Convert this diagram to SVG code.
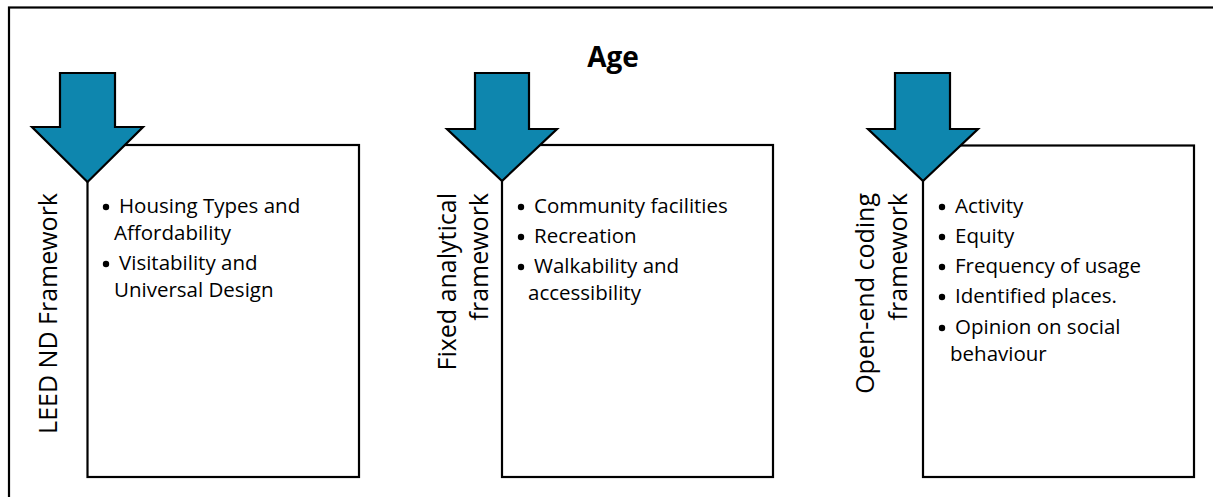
<svg xmlns="http://www.w3.org/2000/svg" width="1213" height="497" viewBox="0 0 1213 497">
<style>
.frame{fill:none;stroke:#000;stroke-width:2.2}
.box{fill:#fff;stroke:#000;stroke-width:2.2}
.arrow{fill:#0E86AE;stroke:#000;stroke-width:2.2;stroke-linejoin:miter}
.t{font-family:"Open Sans","Noto Sans",sans-serif;font-size:20.5px;fill:#000}
.v{font-family:"Open Sans","Noto Sans",sans-serif;font-size:25px;fill:#000;text-anchor:end}
.title{font-family:"Open Sans","Noto Sans",sans-serif;font-size:28px;font-weight:bold;fill:#000;text-anchor:middle}
</style>
<rect x="0" y="0" width="1213" height="497" fill="#fff"/>
<rect class="frame" x="9" y="7.5" width="1220" height="510"/>
<text class="title" x="613" y="67">Age</text>

<g id="node-leed">
<rect class="box" x="87.5" y="145" width="271.5" height="332"/>
<text class="v" transform="translate(57,193) rotate(-90)">LEED ND Framework</text>
<circle cx="106" cy="207" r="3.2" fill="#000"/>
<text class="t" x="119" y="213">Housing Types and</text>
<text class="t" x="114" y="240">Affordability</text>
<circle cx="106" cy="264" r="3.2" fill="#000"/>
<text class="t" x="119" y="270">Visitability and</text>
<text class="t" x="114" y="297">Universal Design</text>
</g>

<g id="node-fixed">
<rect class="box" x="502" y="145" width="271" height="332"/>
<text class="v" transform="translate(456,193) rotate(-90)">Fixed analytical</text>
<text class="v" transform="translate(488,193) rotate(-90)">framework</text>
<circle cx="521" cy="207" r="3.2" fill="#000"/>
<text class="t" x="534" y="213">Community facilities</text>
<circle cx="521" cy="237" r="3.2" fill="#000"/>
<text class="t" x="534" y="243">Recreation</text>
<circle cx="521" cy="267" r="3.2" fill="#000"/>
<text class="t" x="534" y="273">Walkability and</text>
<text class="t" x="528" y="300">accessibility</text>
</g>

<g id="node-open">
<rect class="box" x="923" y="145.5" width="271" height="331.5"/>
<text class="v" transform="translate(874,193) rotate(-90)">Open-end coding</text>
<text class="v" transform="translate(907,193) rotate(-90)">framework</text>
<circle cx="942" cy="207" r="3.2" fill="#000"/>
<text class="t" x="955" y="213">Activity</text>
<circle cx="942" cy="237" r="3.2" fill="#000"/>
<text class="t" x="955" y="243">Equity</text>
<circle cx="942" cy="267" r="3.2" fill="#000"/>
<text class="t" x="955" y="273">Frequency of usage</text>
<circle cx="942" cy="297" r="3.2" fill="#000"/>
<text class="t" x="955" y="303">Identified places.</text>
<circle cx="942" cy="328" r="3.2" fill="#000"/>
<text class="t" x="955" y="334">Opinion on social</text>
<text class="t" x="950" y="361">behaviour</text>
</g>

<g id="connectors">
<polygon class="arrow" points="60,73 115,73 115,127 143,127 87.5,182 32,127 60,127"/>
<polygon class="arrow" points="475,73 529,73 529,129 557,129 502,181 447,129 475,129"/>
<polygon class="arrow" points="895,73 950,73 950,129 978,129 923,181 868,129 895,129"/>
</g>
</svg>
